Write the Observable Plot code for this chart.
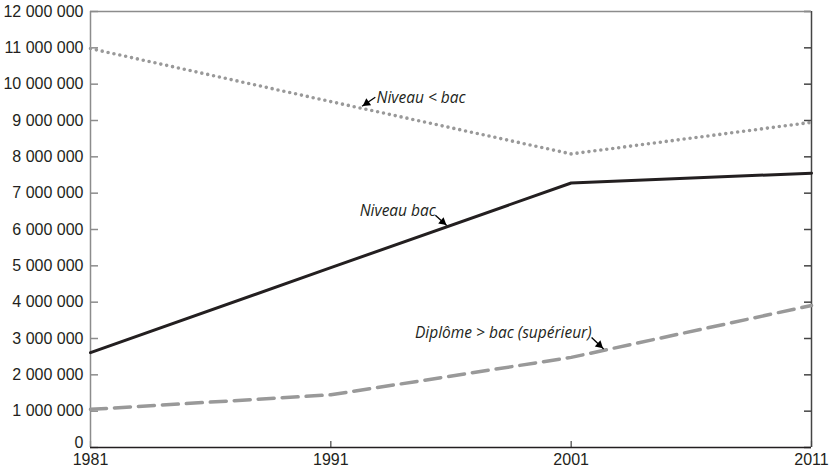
<!DOCTYPE html>
<html>
<head>
<meta charset="utf-8">
<script src="https://cdn.jsdelivr.net/npm/d3@7"></script>
<script src="https://cdn.jsdelivr.net/npm/@observablehq/plot@0.6"></script>
<style>
  html, body { margin: 0; padding: 0; background: #fff; }
  #chart svg { display: block; overflow: visible; }
</style>
</head>
<body>
<div id="chart"></div>
<script>
const years = [1981, 1991, 2001, 2011];
const niveauInfBac = [10980000, 9520000, 8080000, 8950000];
const niveauBac = [2610000, 4950000, 7280000, 7550000];
const diplomeSup = [1050000, 1450000, 2480000, 3910000];

const yTicks = [0, 1000000, 2000000, 3000000, 4000000, 5000000, 6000000, 7000000, 8000000, 9000000, 10000000, 11000000, 12000000];
const xTicks = [1981, 1991, 2001, 2011];

const labels = [
  {text: "Niveau < bac", x: 1992.9, y: 9630000, x1: 1992.85, y1: 9640000, x2: 1992.3, y2: 9390000, rot: -125},
  {text: "Niveau bac", x: 1992.2, y: 6500000, x1: 1995.35, y1: 6390000, x2: 1995.82, y2: 6110000, rot: 130},
  {text: "Diplôme > bac (supérieur)", x: 1994.5, y: 3140000, x1: 2001.85, y1: 3030000, x2: 2002.35, y2: 2710000, rot: 132}
];

const rows = (vals) => years.map((yr, i) => ({year: yr, value: vals[i]}));

const W = 831, H = 473;
const mL = 90, mR = 20, mT = 11, mB = 26;
const pw = W - mL - mR, ph = H - mT - mB;
const ink = "#231f20";
const fmt = d => d3.format(",")(d).replace(/,/g, " ");
const yTicksUpper = yTicks.filter(d => d > 0);

const chart = Plot.plot({
  width: W,
  height: H,
  marginLeft: mL,
  marginRight: mR,
  marginTop: mT,
  marginBottom: mB,
  style: {background: "#fff", color: ink, fontFamily: "'Liberation Sans', Arial, sans-serif", fontSize: "16px"},
  x: {domain: [1981, 2011]},
  y: {domain: [0, 12000000]},
  marks: [
    Plot.axisY(yTicksUpper, {anchor: "left", tickSize: 0, tickPadding: 7, tickFormat: fmt, fontSize: 16, fill: ink, label: null}),
    Plot.axisY([0], {anchor: "left", tickSize: 0, tickPadding: 7, tickFormat: fmt, fontSize: 16, fill: ink, label: null, dy: -5}),
    Plot.axisX(xTicks, {anchor: "bottom", tickSize: 0, tickPadding: 6, tickFormat: d => String(d), fontSize: 16, fill: ink, label: null}),
    // inward ticks
    Plot.tickY(yTicks, {y: d => d, insetRight: pw - 8, stroke: "#8c8c8c", strokeWidth: 1.5}),
    Plot.tickY(yTicks, {y: d => d, insetLeft: pw - 7, stroke: "#444", strokeWidth: 1.5}),
    Plot.tickX(xTicks, {x: d => d, insetTop: ph - 6, stroke: "#444", strokeWidth: 1.2}),
    // frame
    Plot.ruleX([1981], {stroke: "#8c8c8c", strokeWidth: 1.5}),
    Plot.ruleX([2011], {stroke: "#444", strokeWidth: 1.5}),
    Plot.ruleY([12000000], {stroke: "#8c8c8c", strokeWidth: 1.5}),
    Plot.ruleY([0], {stroke: ink, strokeWidth: 1.5}),
    // series
    Plot.line(rows(niveauInfBac), {x: "year", y: "value", stroke: "#999", strokeWidth: 3.6, strokeDasharray: "0 6", strokeLinecap: "round"}),
    Plot.line(rows(niveauBac), {x: "year", y: "value", stroke: ink, strokeWidth: 3}),
    Plot.line(rows(diplomeSup), {x: "year", y: "value", stroke: "#999", strokeWidth: 3.5, strokeDasharray: "16 8"}),
    // annotations: short tail + filled wedge head
    Plot.link(labels, {x1: "x1", y1: "y1", x2: "x2", y2: "y2", stroke: "#000", strokeWidth: 1.3}),
    Plot.dot(labels, {x: d => d.x2 + (d.x1 - d.x2) * 0.35, y: d => d.y2 + (d.y1 - d.y2) * 0.35, symbol: "triangle2", r: 4, fill: "#000", stroke: "none", rotate: "rot"}),
    Plot.text(labels, {x: "x", y: "y", text: "text", textAnchor: "start", fontStyle: "italic", fontSize: 15.5, fill: ink, fontFamily: "'Open Sans', sans-serif"})
  ]
});

document.getElementById("chart").appendChild(chart);
</script>
</body>
</html>
